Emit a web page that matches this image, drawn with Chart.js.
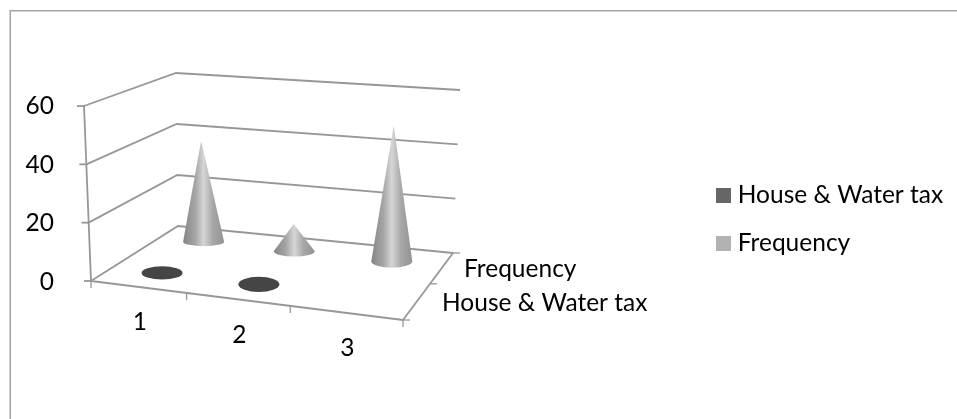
<!DOCTYPE html>
<html><head><meta charset="utf-8">
<script src="https://cdn.jsdelivr.net/npm/chart.js@4"></script>
<style>html,body{margin:0;padding:0;background:#fff}#w{position:absolute;left:0;top:0;width:957px;height:419px}</style>
</head><body><div id="w"><canvas id="c" width="957" height="419"></canvas></div>
<script>
const categories = ['1','2','3'];
const houseWaterTax = [0,0,null];
const frequency = [38,10,49];
const yTicks = [0,20,40,60];
const seriesNames = ['House & Water tax','Frequency'];
const seriesColors = ['#666666','#b2b2b2'];
const markColor = '#454545';
const rowDepth = [0.22,0.77];
const rowShift = [4,0.5];
const FONT = 'Lato, sans-serif';
const FSIZE = 24.5;

// box corners of the 3-D view (u along categories, d into depth, v up)
const box = {
  fl:[91,281], fr:[403,320], bl:[178,226], br:[453,253],
  flT:[84,106], frT:[412,135], blT:[176,73], brT:[460,90]
};
function homography(p00,p10,p11,p01){
  const [x0,y0]=p00,[x1,y1]=p10,[x2,y2]=p11,[x3,y3]=p01;
  const dx1=x1-x2,dx2=x3-x2,dx3=x0-x1+x2-x3,dy1=y1-y2,dy2=y3-y2,dy3=y0-y1+y2-y3;
  const det=dx1*dy2-dx2*dy1;
  const g=(dx3*dy2-dx2*dy3)/det,h=(dx1*dy3-dx3*dy1)/det;
  const a=x1-x0+g*x1,b=x3-x0+h*x3,d=y1-y0+g*y1,e=y3-y0+h*y3;
  return (u,w)=>{const k=g*u+h*w+1;return [(a*u+b*w+x0)/k,(d*u+e*w+y0)/k];};
}
const floorH = homography(box.fl,box.fr,box.br,box.bl);
const topH = homography(box.flT,box.frT,box.brT,box.blT);
function project(u,w,v){
  const a=floorH(u,w),b=topH(u,w);
  return [a[0]+(b[0]-a[0])*v,a[1]+(b[1]-a[1])*v];
}
function line(ctx,a,b,col,lw){ctx.beginPath();ctx.moveTo(a[0],a[1]);ctx.lineTo(b[0],b[1]);ctx.strokeStyle=col;ctx.lineWidth=lw;ctx.stroke();}
const GRID='#979797';
const GW=1.8;

function swatch(col){
  const s=document.createElement('canvas');s.width=15;s.height=15;
  const x=s.getContext('2d');x.fillStyle=col;x.fillRect(0,0,15,15);return s;
}

const view3d = {
  id:'view3d',
  afterLayout(chart){
    const l=chart.legend;
    l.left=721.5-l.options.labels.padding;
    l.top+=25;l.bottom+=25;
  },
  beforeDatasetDraw(){return false;},
  beforeDatasetsDraw(chart){
    const ctx=chart.ctx,y=chart.scales.y;
    const vOf=val=>(y.getPixelForValue(val)-y.bottom)/(y.top-y.bottom);
    ctx.save();ctx.lineCap='butt';
    yTicks.forEach(t=>{
      const v=vOf(t),f=project(0,0,v),b=project(0,1,v),r=project(1,1,v);
      ctx.beginPath();ctx.moveTo(f[0],f[1]);ctx.lineTo(b[0],b[1]);ctx.lineTo(r[0],r[1]);
      ctx.strokeStyle=GRID;ctx.lineWidth=GW;ctx.stroke();
      line(ctx,[f[0]-7,f[1]],f,GRID,GW);
    });
    line(ctx,project(0,0,0),project(0,0,1),GRID,GW);
    line(ctx,project(0,0,0),project(1,0,0),GRID,GW);
    line(ctx,project(1,0,0),project(1,1,0),GRID,GW);
    categories.concat('').forEach((c,i)=>{
      const p=project(i/categories.length,0,0);
      line(ctx,p,[p[0],p[1]+7],GRID,1.3);
    });
    seriesNames.concat('').forEach((c,i)=>{
      const p=project(1,i/seriesNames.length,0);
      line(ctx,p,[p[0]+7,p[1]],GRID,1.3);
    });
    ctx.fillStyle='#000';ctx.font=FSIZE+'px '+FONT;ctx.textBaseline='middle';ctx.textAlign='center';
    categories.forEach((c,i)=>{
      const p=project((i+.5)/categories.length,0,0);
      ctx.fillText(c,p[0]+2,p[1]+35.5);
    });
    ctx.textAlign='left';
    ctx.fillText(seriesNames[1],464,269);
    ctx.fillText(seriesNames[0],442,303);
    const xs=chart.scales.x;
    const uOf=i=>(xs.getPixelForValue(i)-xs.left)/xs.width;
    [1,0].forEach(ds=>{
      const w=rowDepth[ds], vals=chart.data.datasets[ds].data;
      vals.forEach((val,i)=>{
        if(val===null) return;
        const u=uOf(i),base=project(u,w,0),tip=project(u,w,vOf(val));
        const bx=base[0]+rowShift[ds],tx=tip[0]+rowShift[ds];
        const rx=20.5, ry=3+(1-w)*4+u*3;
        if(val<=0){
          ctx.fillStyle=markColor;
          ctx.beginPath();ctx.ellipse(bx,base[1],rx,ry,0,0,Math.PI*2);ctx.fill();
          return;
        }
        const g=ctx.createLinearGradient(bx-rx,0,bx+rx,0);
        g.addColorStop(0,'#858585');g.addColorStop(.3,'#a6a6a6');g.addColorStop(.5,'#d6d6d6');g.addColorStop(.72,'#a8a8a8');g.addColorStop(1,'#929292');
        ctx.fillStyle=g;
        ctx.beginPath();ctx.moveTo(tx,tip[1]);
        ctx.lineTo(bx+rx,base[1]);
        ctx.ellipse(bx,base[1],rx,ry,0,0,Math.PI);
        ctx.closePath();ctx.fill();
      });
    });
    ctx.restore();
  },
  beforeDraw(chart){
    const ctx=chart.ctx;ctx.save();
    ctx.strokeStyle='#a6a6a6';ctx.lineWidth=1.5;
    ctx.beginPath();ctx.moveTo(10.25,419);ctx.lineTo(10.25,10.75);ctx.lineTo(957,10.75);ctx.stroke();
    ctx.restore();
  }
};

new Chart(document.getElementById('c'),{
  type:'bar',
  data:{labels:categories,datasets:[
    {label:seriesNames[0],data:houseWaterTax,backgroundColor:seriesColors[0]},
    {label:seriesNames[1],data:frequency,backgroundColor:seriesColors[1]}
  ]},
  plugins:[view3d],
  options:{
    responsive:false,animation:false,
    layout:{padding:{left:0,right:13,top:106,bottom:137}},
    plugins:{
      tooltip:{enabled:false},title:{display:false},
      legend:{display:true,position:'right',align:'center',onClick:null,
        labels:{usePointStyle:true,pointStyleWidth:4,padding:23.5,color:'#000',font:{family:FONT,size:FSIZE},
          generateLabels(chart){
            return Chart.defaults.plugins.legend.labels.generateLabels(chart).map((it,i)=>
              Object.assign(it,{pointStyle:swatch(seriesColors[i])}));
          }}}
    },
    scales:{
      x:{display:false,grid:{display:false}},
      y:{min:0,max:60,afterBuildTicks(s){s.ticks=yTicks.map(v=>({value:v}));},
        grid:{display:false},border:{display:false},
        afterFit(s){s.width=62;},
        ticks:{color:'#000',font:{family:FONT,size:FSIZE},padding:0}}
    }
  }
});
</script></body></html>
